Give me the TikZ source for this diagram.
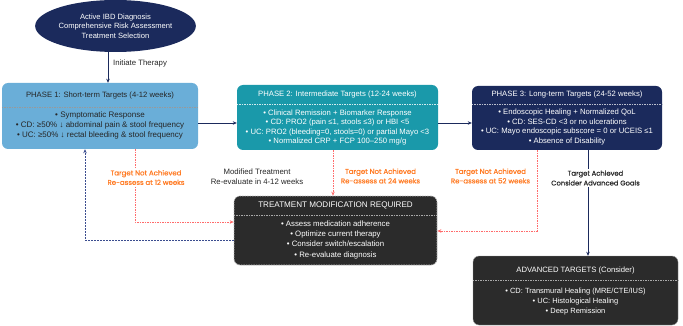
\documentclass[tikz,border=0pt]{standalone}
\usepackage{fontspec}
\setmainfont{Liberation Sans}
\newfontfamily\labfont[FakeBold=0.35]{Poppins}
\usetikzlibrary{arrows.meta,shapes.geometric}
\definecolor{navy}{HTML}{1B2A5C}
\definecolor{pone}{HTML}{6AAED8}
\definecolor{ptwo}{HTML}{1A99AA}
\definecolor{darkbox}{HTML}{2B2B2B}
\definecolor{orangetxt}{HTML}{FF7A22}
\definecolor{redline}{HTML}{FF6B6B}
\definecolor{bluedash}{HTML}{3B4D8F}
\tikzset{
  box/.style={rectangle, rounded corners=6pt, inner sep=0pt},
  hdr/.style={font=\fontsize{7.7}{9}\selectfont, align=center, inner sep=0pt},
  body/.style={font=\fontsize{7.7}{9.4}\selectfont, align=center, inner sep=0pt},
  sep/.style={line width=0.4pt, dash pattern=on 1.5pt off 1pt},
  arr/.style={-{Stealth[length=4pt,width=3.5pt]}, line width=0.6pt},
  reddash/.style={arr, redline, dash pattern=on 1.5pt off 1pt, line width=0.7pt},
  bluedashed/.style={arr, bluedash, dash pattern=on 2pt off 1pt, line width=0.7pt},
  orangelab/.style={font=\labfont\fontsize{7}{9.5}\selectfont, text=orangetxt, align=center, fill=white, inner sep=1.5pt},
  blacklab/.style={font=\fontsize{7.8}{9.5}\selectfont, text=black!85, align=center, inner sep=0pt},
  goodlab/.style={font=\labfont\fontsize{6.8}{9.8}\selectfont, text=black!85, align=center, fill=white, inner sep=1.5pt}
}
\begin{document}
\begin{tikzpicture}[x=1pt,y=-1pt]
\useasboundingbox (0,0) rectangle (683,326);
% ellipse
\node[ellipse, fill=navy, minimum width=155pt, minimum height=52pt, inner sep=0pt, text=white, font=\fontsize{7.6}{9.6}\selectfont, align=center] (ell) at (115.5,26) {Active IBD Diagnosis\\Comprehensive Risk Assessment\\Treatment Selection};
% phase 1
\node[box, fill=pone, minimum width=196pt, minimum height=66pt] (p1) at (100,116) {};
\draw[sep, black!40] (p1.west |- 0,107) -- (p1.east |- 0,107);
\node[hdr, text=black!85] (p1h) at (100,96) {PHASE 1: Short-term Targets (4-12 weeks)};
\node[body, text=black!85, font=\fontsize{8}{9.7}\selectfont] (p1b) at (100,125.5) {• Symptomatic Response\\• CD: ≥50\% ↓ abdominal pain \& stool frequency\\• UC: ≥50\% ↓ rectal bleeding \& stool frequency};
% phase 2
\node[box, fill=ptwo, minimum width=201pt, minimum height=65pt] (p2) at (337.5,117.5) {};
\draw[sep, white!80!ptwo] (p2.west |- 0,104) -- (p2.east |- 0,104);
\node[hdr, text=white] (p2h) at (337.5,95) {PHASE 2: Intermediate Targets (12-24 weeks)};
\node[body, text=white] (p2b) at (337.5,127.5) {• Clinical Remission + Biomarker Response\\• CD: PRO2 (pain ≤1, stools ≤3) or HBI <5\\• UC: PRO2 (bleeding=0, stools=0) or partial Mayo <3\\• Normalized CRP + FCP 100–250 mg/g};
% phase 3
\node[box, fill=navy, minimum width=190pt, minimum height=64pt] (p3) at (567,118) {};
\draw[sep, white!70!navy] (p3.west |- 0,104) -- (p3.east |- 0,104);
\node[hdr, text=white] (p3h) at (567,95) {PHASE 3: Long-term Targets (24-52 weeks)};
\node[body, text=white] (p3b) at (567,127) {• Endoscopic Healing + Normalized QoL\\• CD: SES-CD <3 or no ulcerations\\• UC: Mayo endoscopic subscore = 0 or UCEIS ≤1\\• Absence of Disability};
% treatment modification
\node[box, fill=darkbox, draw=black!25, dash pattern=on 1.5pt off 1pt, line width=0.7pt, minimum width=203pt, minimum height=69pt] (tm) at (335.5,230.5) {};
\draw[sep, white!60!darkbox] (tm.west |- 0,215) -- (tm.east |- 0,215);
\node[hdr, text=white, font=\fontsize{8.1}{9}\selectfont] (tmh) at (335.5,205.5) {TREATMENT MODIFICATION REQUIRED};
\node[body, text=white, font=\fontsize{7.8}{10.3}\selectfont] (tmb) at (335.5,239.7) {• Assess medication adherence\\• Optimize current therapy\\• Consider switch/escalation\\• Re-evaluate diagnosis};
% advanced
\node[box, fill=darkbox, draw=black!40, line width=0.4pt, minimum width=205pt, minimum height=69pt] (adv) at (575.5,290.5) {};
\draw[sep, white!60!darkbox] (adv.west |- 0,280) -- (adv.east |- 0,280);
\node[hdr, text=white] (advh) at (575.5,271) {ADVANCED TARGETS (Consider)};
\node[body, text=white, font=\fontsize{7.5}{10}\selectfont] (advb) at (575.5,301.7) {• CD: Transmural Healing (MRE/CTE/IUS)\\• UC: Histological Healing\\• Deep Remission};
% connectors
\draw[arr, navy] (ell.south -| 108,0) -- (p1.north -| 108,0);
\node[blacklab, anchor=west] (lit) at (113,63.5) {Initiate Therapy};
\draw[arr, navy] (p1.east |- 0,123) -- (p2.west |- 0,123);
\draw[arr, navy] (p2.east |- 0,123) -- (p3.west |- 0,123);
\draw[reddash] (p1.south -| 135,0) |- (tm.west |- 0,222);
\draw[bluedashed] (tm.west |- 0,240) -| (p1.south -| 85,0);
\draw[reddash] (p2.south -| 333,0) -- (tm.north -| 333,0);
\draw[reddash] (p3.south -| 537,0) |- (tm.east |- 0,231);
\draw[arr, navy] (p3.south -| 588,0) -- (adv.north -| 588,0);
% labels
\node[orangelab] (l12) at (146,177.5) {Target Not Achieved\\Re-assess at 12 weeks};
\node[blacklab] (lmod) at (257,176.5) {Modified Treatment\\Re-evaluate in 4-12 weeks};
\node[orangelab] (l24) at (380.5,176) {Target Not Achieved\\Re-assess at 24 weeks};
\node[orangelab] (l52) at (490.5,176) {Target Not Achieved\\Re-assess at 52 weeks};
\node[goodlab] (lach) at (595.5,178) {Target Achieved\\Consider Advanced Goals};
\end{tikzpicture}
\end{document}
